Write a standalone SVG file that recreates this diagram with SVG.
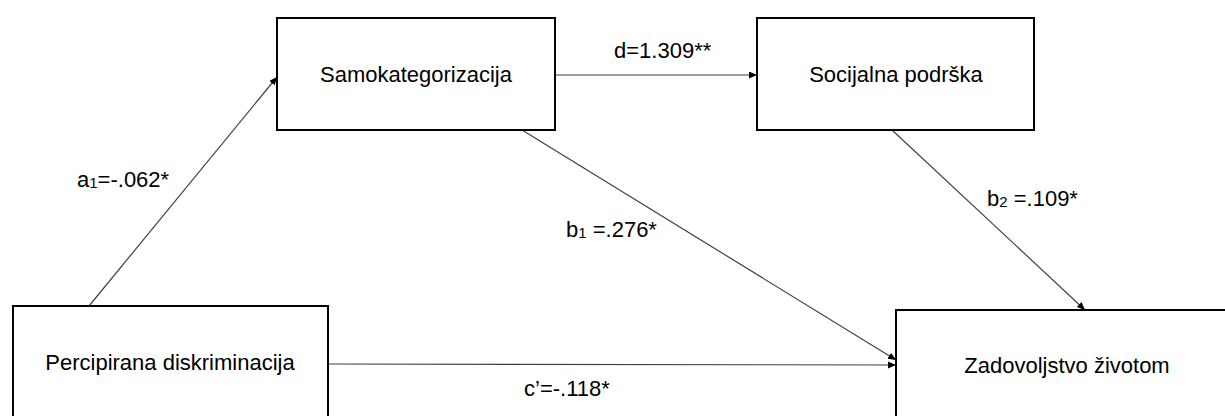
<svg xmlns="http://www.w3.org/2000/svg" width="1225" height="416" viewBox="0 0 1225 416">
<style>
.box{fill:#ffffff;stroke:#000000;stroke-width:2}
.lbl{font-family:"Liberation Sans",Arial,sans-serif;font-size:22px;fill:#000000}
.node{font-family:"Liberation Sans",Arial,sans-serif;font-size:22px;fill:#000000;text-anchor:middle}
.sub{font-size:15px}
.edge{stroke:#404040;stroke-width:1.2;fill:none;marker-end:url(#arr)}
</style>
<defs>
<marker id="arr" markerUnits="userSpaceOnUse" markerWidth="9" markerHeight="8" refX="8" refY="3.5" orient="auto">
<path d="M0,0 L8,3.5 L0,7 z" fill="#000000"/>
</marker>
</defs>
<rect width="1225" height="416" fill="#ffffff"/>
<g id="connectors">
<line class="edge" x1="89" y1="306" x2="277" y2="77"/>
<line class="edge" x1="555" y1="75" x2="757" y2="75"/>
<line class="edge" x1="522" y1="130" x2="896" y2="360"/>
<line class="edge" x1="892" y1="130" x2="1085" y2="310"/>
<line class="edge" x1="328" y1="364" x2="896" y2="365"/>
<text class="lbl" x="77" y="187">a<tspan class="sub" dy="1">1</tspan><tspan dy="-1">=-.062*</tspan></text>
<text class="lbl" x="614" y="58">d=1.309**</text>
<text class="lbl" x="566" y="237">b<tspan class="sub" dy="1">1</tspan><tspan dy="-1"> =.276*</tspan></text>
<text class="lbl" x="987" y="206">b<tspan class="sub" dy="1">2</tspan><tspan dy="-1"> =.109*</tspan></text>
<text class="lbl" x="524" y="396">c’=-.118*</text>
</g>
<g id="samokategorizacija">
<rect class="box" x="277" y="18" width="278" height="112"/>
<text class="node" x="416" y="82">Samokategorizacija</text>
</g>
<g id="socijalna-podrska">
<rect class="box" x="757" y="18" width="277" height="112"/>
<text class="node" x="896" y="82">Socijalna podrška</text>
</g>
<g id="percipirana-diskriminacija">
<rect class="box" x="13" y="306" width="315" height="130"/>
<text class="node" x="170" y="370">Percipirana diskriminacija</text>
</g>
<g id="zadovoljstvo-zivotom">
<rect class="box" x="896" y="310" width="345" height="130"/>
<text class="node" x="1067" y="373">Zadovoljstvo životom</text>
</g>
</svg>
